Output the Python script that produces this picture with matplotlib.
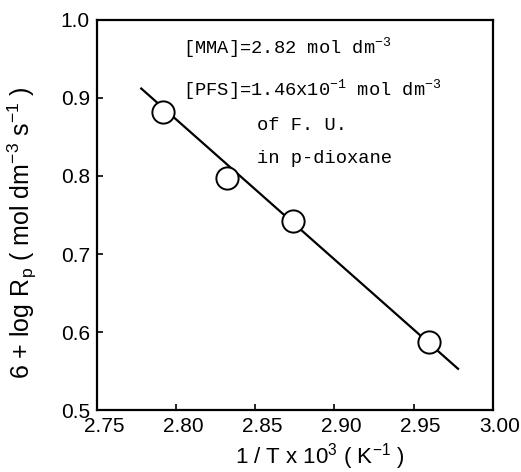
import numpy as np
import matplotlib
matplotlib.use("Agg")
import matplotlib.pyplot as plt
import matplotlib.transforms as mtransforms

# datos
inv_T = [2.792, 2.832, 2.874, 2.9595]
log_rp = [0.882, 0.797, 0.742, 0.587]

# recta dibujada a mano en el original (extremos)
x_linea = [2.778, 2.978]
y_linea = [0.912, 0.553]

x_ticks = [2.75, 2.80, 2.85, 2.90, 2.95, 3.00]
x_tick_labels = ["2.75", "2.80", "2.85", "2.90", "2.95", "3.00"]
y_ticks = [0.5, 0.6, 0.7, 0.8, 0.9, 1.0]
y_tick_labels = ["0.5", "0.6", "0.7", "0.8", "0.9", "1.0"]

fig = plt.figure(figsize=(5.21, 4.72), dpi=100)
ax = fig.add_axes([0.186, 0.131, 0.760, 0.827])

ax.plot(x_linea, y_linea, color="black", lw=1.6, zorder=2)
ax.plot(inv_T, log_rp, "o", ms=16, mfc="white", mec="black", mew=1.4, zorder=3)

ax.set_xlim(2.75, 3.00)
ax.set_ylim(0.5, 1.0)
ax.set_xticks(x_ticks)
ax.set_xticklabels(x_tick_labels)
ax.set_yticks(y_ticks)
ax.set_yticklabels(y_tick_labels)
ax.tick_params(direction="in", length=4, width=1.2, labelsize=15)
ax.tick_params(axis="x", pad=5)
ax.tick_params(axis="y", pad=5)
for lab in ax.get_xticklabels() + ax.get_yticklabels():
    lab.set_family("Liberation Sans")
# en el original las etiquetas del eje x quedan algo a la derecha
desplaz = mtransforms.ScaledTranslation(0.07, 0, fig.dpi_scale_trans)
for lab in ax.get_xticklabels():
    lab.set_transform(lab.get_transform() + desplaz)
for s in ax.spines.values():
    s.set_linewidth(1.6)

ax.set_xlabel(r"1 / T x 10$\mathregular{^3}$ ( K$\mathregular{^{-1}}$ )",
              fontsize=16, family="Liberation Sans", va="center")
ax.xaxis.set_label_coords(0.563, -0.12)
ax.set_ylabel(r"6 + log R$\mathregular{_p}$ ( mol dm$\mathregular{^{-3}}$ s$\mathregular{^{-1}}$ )",
              fontsize=18, family="Liberation Sans", va="center")
ax.yaxis.set_label_coords(-0.188, 0.454)

mono = dict(family="Liberation Mono", fontsize=13.5, transform=ax.transAxes,
            va="center", ha="left")
ax.text(0.217, 0.928, r"[MMA]=2.82 mol dm$\mathregular{^{-3}}$", **mono)
ax.text(0.217, 0.822, r"[PFS]=1.46x10$\mathregular{^{-1}}$ mol dm$\mathregular{^{-3}}$", **mono)
ax.text(0.404, 0.728, "of F. U.", **mono)
ax.text(0.404, 0.646, "in p-dioxane", **mono)

plt.savefig("out.png", dpi=100)
